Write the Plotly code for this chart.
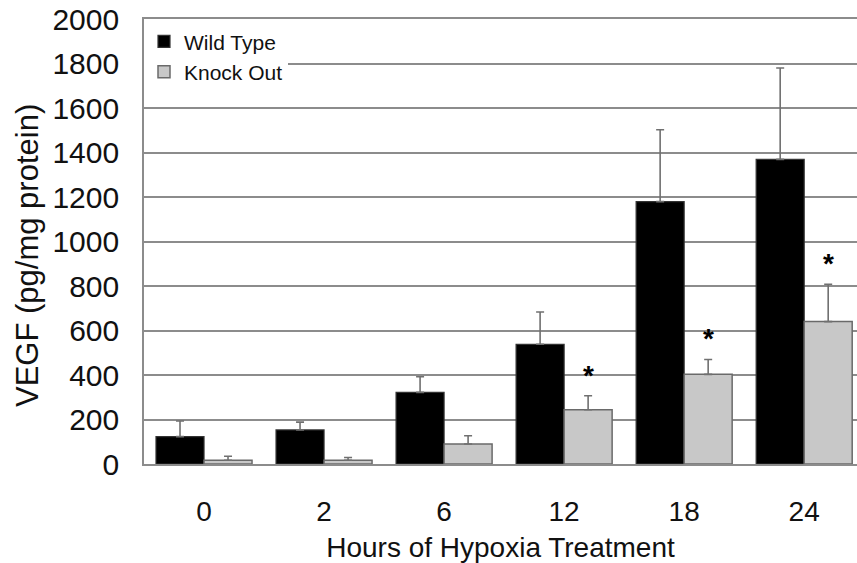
import plotly.graph_objects as go

hours = ["0", "2", "6", "12", "18", "24"]
wild_type = [123, 153, 322, 538, 1179, 1369]
wild_type_err = [70, 35, 70, 145, 323, 411]
knock_out = [17, 17, 90, 244, 403, 640]
knock_out_err = [18, 12, 37, 63, 67, 168]
significant = [False, False, False, True, True, True]
y_ticks = [0, 200, 400, 600, 800, 1000, 1200, 1400, 1600, 1800, 2000]

FONT = "Arial, Liberation Sans, Helvetica, sans-serif"
GRID = "#8c8c8c"

fig = go.Figure()
fig.add_trace(go.Bar(
    name="Wild Type", x=hours, y=wild_type,
    marker=dict(color="black", line=dict(color="#333333", width=1.2)),
    error_y=dict(type="data", array=wild_type_err, arrayminus=[0]*len(hours),
                 symmetric=False, color="#707070", thickness=1.6, width=4),
))
fig.add_trace(go.Bar(
    name="Knock Out", x=hours, y=knock_out,
    marker=dict(color="#c8c8c8", line=dict(color="#6a6a6a", width=1.5)),
    error_y=dict(type="data", array=knock_out_err, arrayminus=[0]*len(hours),
                 symmetric=False, color="#707070", thickness=1.6, width=4),
))

for i, h in enumerate(hours):
    if significant[i]:
        fig.add_annotation(
            x=i + 0.2, y=knock_out[i] + knock_out_err[i], xref="x", yref="y",
            text="<b>*</b>", showarrow=False, yanchor="bottom", yshift=3,
            font=dict(family=FONT, size=28, color="black"),
        )

fig.add_annotation(
    text="VEGF (pg/mg protein)", xref="paper", yref="paper",
    x=0, xshift=-116, y=(464 - 256) / 445, xanchor="center", yanchor="middle",
    textangle=-90, showarrow=False,
    font=dict(family=FONT, size=31, color="#111111"),
)

fig.update_layout(
    width=857, height=563,
    margin=dict(l=144, r=0, t=19, b=99),
    paper_bgcolor="white", plot_bgcolor="white",
    barmode="group", bargap=0.2, bargroupgap=0,
    font=dict(family=FONT, color="#111111"),
    showlegend=True,
    legend=dict(x=0.0, y=0.995, xanchor="left", yanchor="top",
                bgcolor="white", font=dict(family=FONT, size=21, color="#111111"),
                itemwidth=30, tracegroupgap=0),
)
fig.update_xaxes(
    type="category", range=[-0.5, 5.44],
    showline=True, linecolor=GRID, linewidth=1.6, mirror=True,
    ticks="", tickfont=dict(family=FONT, size=28, color="#111111"),
    ticklabelstandoff=22,
    title=dict(text="Hours of Hypoxia Treatment", font=dict(family=FONT, size=28, color="#111111"), standoff=12),
    showgrid=False,
)
fig.update_yaxes(
    range=[0, 2000], tickvals=y_ticks,
    showline=True, linecolor=GRID, linewidth=1.6,
    showgrid=True, gridcolor=GRID, gridwidth=1.6,
    zeroline=False,
    ticks="", tickfont=dict(family=FONT, size=30, color="#111111"),
    ticklabelstandoff=17,
)

fig.write_html("out.html")
